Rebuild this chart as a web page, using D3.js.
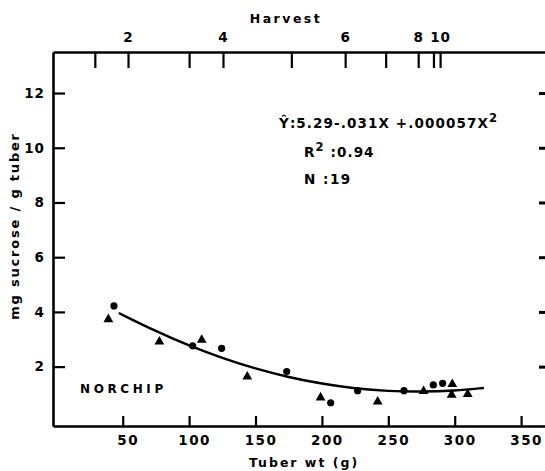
<!DOCTYPE html>
<html><head><meta charset="utf-8">
<script src="https://cdn.jsdelivr.net/npm/d3@7"></script>
<style>
body{margin:0;background:#fff;}
text{font-family:"DejaVu Sans",sans-serif;font-weight:bold;fill:#000;}
</style></head>
<body><svg id="c" width="545" height="471"></svg>
<script>
// Data
const circleX = [43.4, 102.7, 124.5, 173.5, 206.6, 226.9, 261.8, 283.9, 290.9];
const circleY = [4.22, 2.76, 2.67, 1.82, 0.68, 1.12, 1.12, 1.33, 1.39];
const triX = [39.2, 77.6, 109.5, 143.8, 199, 242, 276.6, 298.2, 297.7, 309.8];
const triY = [3.73, 2.91, 2.98, 1.63, 0.87, 0.72, 1.10, 1.36, 0.97, 0.99];
const curveX = [47, 75, 100, 125, 150, 175, 200, 225, 250, 275, 300, 322];
const curveY = [3.96, 3.29, 2.76, 2.31, 1.92, 1.61, 1.37, 1.20, 1.10, 1.08, 1.12, 1.22];
const xTicks = [50, 100, 150, 200, 250, 300, 350];
const yTicks = [2, 4, 6, 8, 10, 12];
const harvestWt = [29, 54, 100, 125.5, 177, 217.5, 248, 272.5, 284, 289];
const harvestLabels = ["", "2", "", "4", "", "6", "", "8", "", "10"];

const svg = d3.select("#c");
const x = d3.scaleLinear().domain([-2.5, 368]).range([53, 545]);
const y = d3.scaleLinear().domain([-0.17, 13.5]).range([426, 52]);

function styleAxis(g){
  g.selectAll("path.domain").attr("stroke","#000").attr("stroke-width",2.6);
  g.selectAll(".tick line").attr("stroke","#000").attr("stroke-width",2.2);
  g.selectAll(".tick text").attr("font-size",13.5).attr("font-family","DejaVu Sans").attr("font-weight","bold").attr("fill","#000").attr("letter-spacing",1);
}

// left axis
const gl = svg.append("g").attr("transform",`translate(${x.range()[0]},0)`)
  .call(d3.axisLeft(y).tickValues(yTicks).tickSizeInner(-12).tickSizeOuter(0).tickPadding(8));
styleAxis(gl);
// right edge ticks
const gr = svg.append("g").attr("transform",`translate(546,0)`)
  .call(d3.axisLeft(y).tickValues(yTicks).tickSizeInner(7).tickSizeOuter(0).tickFormat(""));
styleAxis(gr); gr.select("path.domain").remove();
gr.selectAll(".tick line").attr("stroke-width",3);

// bottom axis
const gb = svg.append("g").attr("transform",`translate(0,${y.range()[0]})`)
  .call(d3.axisBottom(x).tickValues(xTicks).tickSizeInner(-10).tickSizeOuter(0).tickPadding(9));
styleAxis(gb);
gb.selectAll(".tick text").attr("dx",5).attr("letter-spacing",1.5);

// top harvest axis
const gt = svg.append("g").attr("transform",`translate(0,${y.range()[1]})`)
  .call(d3.axisTop(x).tickValues(harvestWt).tickSizeInner(-16).tickSizeOuter(0).tickPadding(10)
    .tickFormat((d,i)=>harvestLabels[i]));
styleAxis(gt);

// fit curve
const line = d3.line().x((d,i)=>x(curveX[i])).y((d,i)=>y(curveY[i])).curve(d3.curveBasis);
svg.append("path").datum(curveX).attr("d",line).attr("fill","none").attr("stroke","#000").attr("stroke-width",2.4);

// circles
svg.append("g").selectAll("circle").data(circleX).join("circle")
  .attr("cx",(d)=>x(d)).attr("cy",(d,i)=>y(circleY[i])).attr("r",3.6).attr("fill","#000");
// triangles
const tri = d3.symbol().type(d3.symbolTriangle).size(42);
svg.append("g").selectAll("path").data(triX).join("path")
  .attr("d",tri).attr("transform",(d,i)=>`translate(${x(d)},${y(triY[i])})`).attr("fill","#000");

// titles
svg.append("text").attr("x",286).attr("y",23).attr("text-anchor","middle").attr("font-size",12.5).attr("letter-spacing",2.5).text("Harvest");
svg.append("text").attr("x",304).attr("y",467).attr("text-anchor","middle").attr("font-size",12.5).attr("letter-spacing",2).text("Tuber  wt  (g)");
svg.append("text").attr("transform","translate(19,226) rotate(-90)").attr("text-anchor","middle").attr("font-size",13).attr("letter-spacing",1.8).text("mg sucrose / g tuber");
svg.append("text").attr("x",80).attr("y",393).attr("font-size",12).attr("letter-spacing",3.6).text("NORCHIP");

// equation
const eq = svg.append("text").attr("x",279).attr("y",128).attr("font-size",13.5).attr("letter-spacing",1.1);
eq.append("tspan").text("Ŷ:5.29-.031X +.000057X");
eq.append("tspan").attr("dy",-6).attr("font-size",11.5).text("2");
const r2 = svg.append("text").attr("x",304).attr("y",157).attr("font-size",13.5).attr("letter-spacing",1.1);
r2.append("tspan").text("R");
r2.append("tspan").attr("dy",-6).attr("font-size",11.5).text("2");
r2.append("tspan").attr("dy",6).text(" :0.94");
svg.append("text").attr("x",304).attr("y",184).attr("font-size",13.5).attr("letter-spacing",1.5).text("N :19");
</script></body></html>
